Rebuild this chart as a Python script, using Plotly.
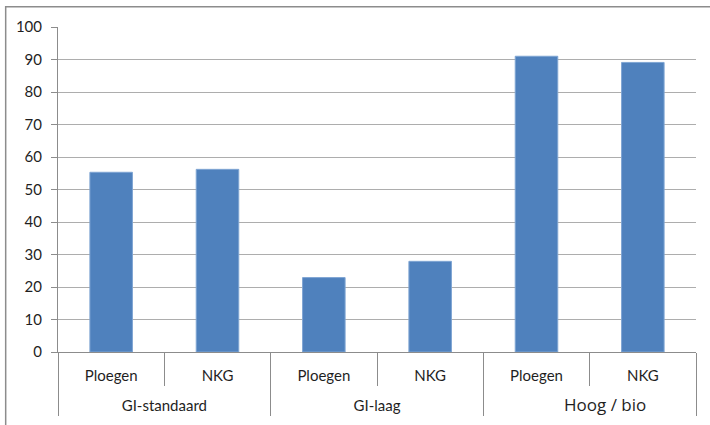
import plotly.graph_objects as go

groups = ["GI-standaard", "GI-standaard", "GI-laag", "GI-laag", "Hoog / bio", "Hoog / bio"]
methods = ["Ploegen", "NKG", "Ploegen", "NKG", "Ploegen", "NKG"]
values = [55.3, 56.2, 22.9, 27.9, 91.0, 89.1]
y_ticks = list(range(0, 101, 10))

AX = "#8C8C8C"
GRID = "#ADADAD"
TXT = "#1F1F1F"
FONT = "Lato"

def group_label(g):
    if g == "Hoog / bio":
        return ("<br><span style='font-size:17px;font-family:Open Sans'>"
                + "&nbsp;" * 7 + g + "</span>")
    return "<br>" + g

fig = go.Figure()
fig.add_trace(go.Bar(
    x=[[group_label(g) for g in groups], methods],
    y=values,
    marker=dict(color="#4F81BD", line=dict(color="#7FA5D3", width=1)),
    width=0.4,
))

fig.update_layout(
    width=710, height=425,
    margin=dict(l=58, r=14, t=27, b=73),
    paper_bgcolor="white", plot_bgcolor="white",
    showlegend=False,
    font=dict(family=FONT, size=15, color=TXT),
    xaxis=dict(
        type="multicategory", automargin=False,
        showline=True, linecolor=AX, linewidth=1,
        ticks="outside", tickson="boundaries", ticklen=33, tickcolor=AX,
        showdividers=True, dividercolor=AX, dividerwidth=1,
        showgrid=False, ticklabelstandoff=10,
        tickfont=dict(family=FONT, size=15, color=TXT),
    ),
    yaxis=dict(
        range=[0, 100], tickvals=y_ticks, automargin=False,
        showgrid=True, gridcolor=GRID, gridwidth=1,
        showline=True, linecolor=AX, linewidth=1,
        ticks="outside", ticklen=6, tickcolor=AX,
        zeroline=False, ticklabelstandoff=6,
        tickfont=dict(family=FONT, size=15, color=TXT),
    ),
    shapes=[dict(type="rect", xref="paper", yref="paper",
                 x0=-0.082, x1=1.05, y0=-0.4, y1=1.062,
                 line=dict(color="#8C8C8C", width=1.5), layer="below")],
)

fig.write_html("out.html", config={"displayModeBar": False},
               post_script="document.body.style.margin='0';")
